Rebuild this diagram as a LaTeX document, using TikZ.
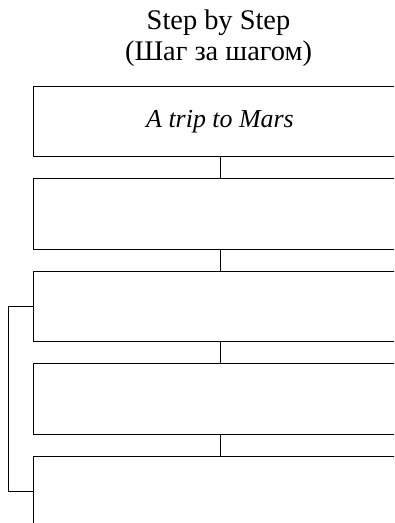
\documentclass[tikz,border=0pt]{standalone}
\usepackage{fontspec}
\setmainfont{Liberation Serif}
\usetikzlibrary{positioning}

\tikzset{
  stepbox/.style={draw, line width=1pt, minimum width=373bp, minimum height=70.5bp, inner sep=0pt},
  link/.style={line width=1pt},
}

\begin{document}
\begin{tikzpicture}[x=1bp, y=1bp, node distance=21bp]
  \clip (0,0) rectangle (394,523);
  % Title
  \node[align=center, font=\fontsize{28.5}{31}\selectfont] (title) at (218.5,485) {Step by Step\\(Шаг за шагом)};
  % Boxes
  \node[stepbox, font=\fontsize{26}{30}\selectfont\itshape] (trip) at (220,401.3) {A trip to Mars};
  \node[stepbox, below=of trip] (stepb) {};
  \node[stepbox, below=of stepb] (stepc) {};
  \node[stepbox, below=of stepc] (stepd) {};
  \node[stepbox, below=of stepd] (stepe) {};
  % Links
  \draw[link] (trip) -- (stepb);
  \draw[link] (stepb) -- (stepc);
  \draw[link] (stepc) -- (stepd);
  \draw[link] (stepd) -- (stepe);
  \draw[link] (stepc.west) -- ++(-25,0) |- (stepe.west);
\end{tikzpicture}
\end{document}
